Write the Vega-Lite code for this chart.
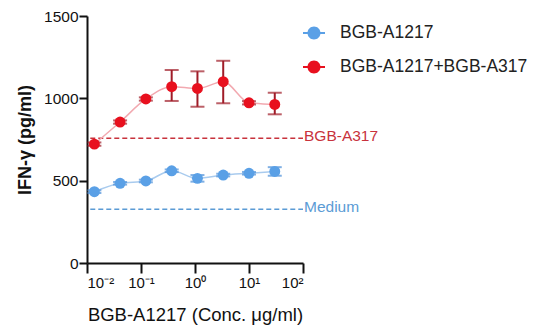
{
  "$schema": "https://vega.github.io/schema/vega-lite/v6.json",
  "autosize": {"type": "none"},
  "padding": {"left": 87, "top": 16, "right": 235, "bottom": 73},
  "width": 216,
  "height": 247,
  "background": "white",
  "config": {
    "view": {"stroke": null},
    "font": "Liberation Sans",
    "axis": {"grid": false, "domainColor": "#111", "domainWidth": 2, "tickColor": "#111", "tickWidth": 2, "labelColor": "#111", "titleColor": "#111"}
  },
  "datasets": {
    "pts": [
      {"series": "BGB-A1217", "conc": 0.0137, "mean": 433, "lo": 425, "hi": 441},
      {"series": "BGB-A1217", "conc": 0.041, "mean": 484, "lo": 476, "hi": 492},
      {"series": "BGB-A1217", "conc": 0.123, "mean": 498, "lo": 490, "hi": 506},
      {"series": "BGB-A1217", "conc": 0.37, "mean": 560, "lo": 552, "hi": 568},
      {"series": "BGB-A1217", "conc": 1.11, "mean": 514, "lo": 494, "hi": 534},
      {"series": "BGB-A1217", "conc": 3.33, "mean": 534, "lo": 526, "hi": 542},
      {"series": "BGB-A1217", "conc": 10, "mean": 545, "lo": 537, "hi": 553},
      {"series": "BGB-A1217", "conc": 30, "mean": 556, "lo": 530, "hi": 582},
      {"series": "BGB-A1217+BGB-A317", "conc": 0.0137, "mean": 722, "lo": 712, "hi": 732},
      {"series": "BGB-A1217+BGB-A317", "conc": 0.041, "mean": 856, "lo": 846, "hi": 866},
      {"series": "BGB-A1217+BGB-A317", "conc": 0.123, "mean": 996, "lo": 986, "hi": 1006},
      {"series": "BGB-A1217+BGB-A317", "conc": 0.37, "mean": 1071, "lo": 984, "hi": 1172},
      {"series": "BGB-A1217+BGB-A317", "conc": 1.11, "mean": 1060, "lo": 949, "hi": 1164},
      {"series": "BGB-A1217+BGB-A317", "conc": 3.33, "mean": 1101, "lo": 970, "hi": 1228},
      {"series": "BGB-A1217+BGB-A317", "conc": 10, "mean": 973, "lo": 963, "hi": 983},
      {"series": "BGB-A1217+BGB-A317", "conc": 30, "mean": 963, "lo": 903, "hi": 1034}
    ],
    "refs": [
      {"label": "BGB-A317", "value": 757, "x0": 0.0115, "x1": 100},
      {"label": "Medium", "value": 326, "x0": 0.0115, "x1": 100}
    ]
  },
  "layer": [
    {
      "data": {"name": "refs"},
      "mark": {"type": "rule", "strokeDash": [5, 3], "strokeWidth": 1.5},
      "encoding": {
        "x": {"field": "x0", "type": "quantitative", "scale": {"type": "log", "domain": [0.01, 100]}},
        "x2": {"field": "x1"},
        "y": {"field": "value", "type": "quantitative", "scale": {"domain": [0, 1500], "nice": false}},
        "color": {"condition": {"test": "datum.label == 'Medium'", "value": "#5b9bd5"}, "value": "#c8323c"}
      }
    },
    {
      "data": {"name": "refs"},
      "mark": {"type": "text", "align": "left", "baseline": "middle", "dx": 1, "dy": -2, "fontSize": 15.5},
      "encoding": {
        "x": {"field": "x1", "type": "quantitative"},
        "y": {"field": "value", "type": "quantitative"},
        "text": {"field": "label"},
        "color": {"condition": {"test": "datum.label == 'Medium'", "value": "#5b9bd5"}, "value": "#c8323c"}
      }
    },
    {
      "data": {"name": "pts"},
      "mark": {"type": "line", "interpolate": "monotone", "strokeWidth": 1.5},
      "encoding": {
        "x": {"field": "conc", "type": "quantitative"},
        "y": {"field": "mean", "type": "quantitative"},
        "detail": {"field": "series"},
        "color": {"condition": {"test": "datum.series == 'BGB-A1217'", "value": "#a9cbee"}, "value": "#f2a9b0"}
      }
    },
    {
      "data": {"name": "pts"},
      "mark": {"type": "rule", "strokeWidth": 2},
      "encoding": {
        "x": {"field": "conc", "type": "quantitative"},
        "y": {"field": "lo", "type": "quantitative"},
        "y2": {"field": "hi"},
        "color": {"condition": {"test": "datum.series == 'BGB-A1217'", "value": "#4a8fd8"}, "value": "#a01c28"}
      }
    },
    {
      "data": {"name": "pts"},
      "mark": {"type": "tick", "orient": "horizontal", "size": 14, "thickness": 2},
      "encoding": {
        "x": {"field": "conc", "type": "quantitative"},
        "y": {"field": "lo", "type": "quantitative"},
        "color": {"condition": {"test": "datum.series == 'BGB-A1217'", "value": "#4a8fd8"}, "value": "#a01c28"}
      }
    },
    {
      "data": {"name": "pts"},
      "mark": {"type": "tick", "orient": "horizontal", "size": 14, "thickness": 2},
      "encoding": {
        "x": {"field": "conc", "type": "quantitative"},
        "y": {"field": "hi", "type": "quantitative"},
        "color": {"condition": {"test": "datum.series == 'BGB-A1217'", "value": "#4a8fd8"}, "value": "#a01c28"}
      }
    },
    {
      "data": {"name": "pts"},
      "mark": {"type": "point", "filled": true, "opacity": 1, "size": 120},
      "encoding": {
        "x": {"field": "conc", "type": "quantitative", "title": "BGB-A1217 (Conc. μg/ml)",
          "axis": {"values": [0.01, 0.1, 1, 10, 100], "labelExpr": "datum.value < 0.05 ? '10⁻²' : datum.value < 0.5 ? '10⁻¹' : datum.value < 5 ? '10⁰' : datum.value < 50 ? '10¹' : '10²'", "labelFontSize": 15, "tickSize": 10, "labelPadding": 2, "titleFontSize": 18.5, "titleFontWeight": "normal", "titlePadding": 15}},
        "y": {"field": "mean", "type": "quantitative", "title": "IFN-γ (pg/ml)",
          "axis": {"values": [0, 500, 1000, 1500], "format": "d", "labelFontSize": 15.5, "tickSize": 8, "labelPadding": 1, "titleFontSize": 18, "titleFontWeight": "bold", "titlePadding": 9}},
        "color": {"field": "series", "type": "nominal", "scale": {"domain": ["BGB-A1217", "BGB-A1217+BGB-A317"], "range": ["#5aa0e6", "#e8101e"]},
          "legend": {"title": null, "orient": "none", "legendX": 216, "legendY": 6, "padding": 0, "labelFontSize": 17.5, "labelLimit": 400, "labelColor": "#222", "symbolType": "M-1.1,-0.1L1.1,-0.1L1.1,0.1L-1.1,0.1Z M0.65,0A0.65,0.65,0,1,1,-0.65,0A0.65,0.65,0,1,1,0.65,0Z", "symbolSize": 400, "rowPadding": 14, "labelOffset": 15,
            "encode": {"symbols": {"update": {"shape": {"value": "M-1.1,-0.1L1.1,-0.1L1.1,0.1L-1.1,0.1Z M0.65,0A0.65,0.65,0,1,1,-0.65,0A0.65,0.65,0,1,1,0.65,0Z"}, "fill": {"scale": "color", "field": "value"}, "fillOpacity": {"value": 1}, "opacity": {"value": 1}}}}}}
      }
    }
  ]
}
